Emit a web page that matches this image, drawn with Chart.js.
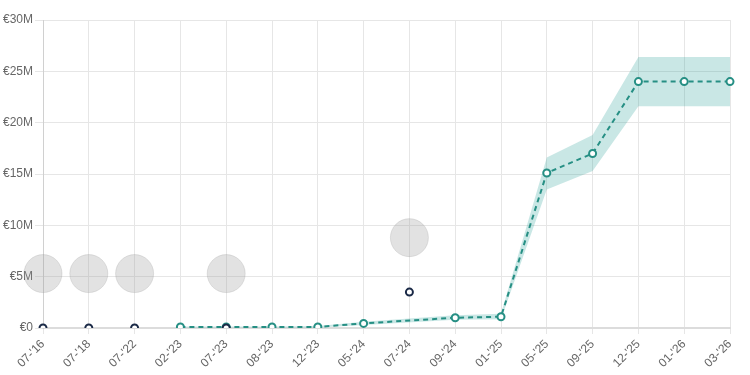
<!DOCTYPE html>
<html>
<head>
<meta charset="utf-8">
<script src="https://cdn.jsdelivr.net/npm/chart.js@4"></script>
<style>
  html, body { margin: 0; padding: 0; background: #fff; }
  #wrap { width: 750px; height: 375px; position: relative; }
</style>
</head>
<body>
<div id="wrap"><canvas id="chart"></canvas></div>
<script>
// ── DATOS ─────────────────────────────────────
const LABELS = ["07-'16", "07-'18", "07-'22", "02-'23", "07-'23", "08-'23", "12-'23", "05-'24",
                "07-'24", "09-'24", "01-'25", "05-'25", "09-'25", "12-'25", "01-'26", "03-'26"];

// valores en millones de euros
const REALES   = [0, 0, 0, null, 0, null, null, null, 3.5, null, null, null, null, null, null, null];
const BURBUJAS = [5.3, 5.3, 5.3, null, 5.3, null, null, null, 8.8, null, null, null, null, null, null, null];
const PREVISTO = [null, null, null, 0.1, 0.1, 0.1, 0.1, 0.45, null, 1.0, 1.1, 15.1, 17.0, 24.0, 24.0, 24.0];
const BANDA_SUP = [null, null, null, 0.15, 0.15, 0.15, 0.2, 0.6, null, 1.25, 1.4, 16.6, 18.8, 26.4, 26.4, 26.4];
const BANDA_INF = [null, null, null, 0.05, 0.05, 0.05, 0.05, 0.3, null, 0.8, 0.85, 13.5, 15.3, 21.6, 21.6, 21.6];

const Y_TICKS = [0, 5, 10, 15, 20, 25, 30];

const TEAL = "#268f84";
const NAVY = "#1b2a47";

// ── GRÁFICO ───────────────────────────────────
const ctx = document.getElementById("chart").getContext("2d");
new Chart(ctx, {
  type: "line",
  data: {
    labels: LABELS,
    datasets: [
      {
        label: "banda_inf",
        data: BANDA_INF,
        borderWidth: 0,
        pointRadius: 0,
        spanGaps: true,
        fill: false,
        order: 5,
      },
      {
        label: "banda_sup",
        data: BANDA_SUP,
        borderWidth: 0,
        pointRadius: 0,
        spanGaps: true,
        backgroundColor: "rgba(38,160,150,0.25)",
        fill: "-1",
        order: 4,
      },
      {
        label: "burbujas",
        data: BURBUJAS,
        showLine: false,
        pointRadius: 19,
        pointHoverRadius: 19,
        pointBackgroundColor: "rgba(150,150,150,0.28)",
        pointBorderColor: "rgba(150,150,150,0.25)",
        pointBorderWidth: 1,
        order: 3,
      },
      {
        label: "previsto",
        data: PREVISTO,
        borderColor: TEAL,
        borderWidth: 2,
        borderDash: [5, 4],
        spanGaps: true,
        tension: 0,
        pointRadius: 3.5,
        pointBackgroundColor: "#fff",
        pointBorderColor: TEAL,
        pointBorderWidth: 2,
        fill: false,
        order: 2,
      },
      {
        label: "reales",
        data: REALES,
        showLine: false,
        pointRadius: 3.5,
        pointBackgroundColor: "#fff",
        pointBorderColor: NAVY,
        pointBorderWidth: 2,
        order: 1,
      },
    ]
  },
  options: {
    responsive: true,
    maintainAspectRatio: false,
    animation: false,
    layout: { padding: { top: 14, right: 20, left: 0, bottom: 0 } },
    plugins: { legend: { display: false }, tooltip: { enabled: false } },
    scales: {
      x: {
        afterFit: axis => { axis.height = 47; },
        grid: { color: "#e6e6e6", tickLength: 6 },
        border: { color: "#dcdcdc", width: 2 },
        ticks: {
          color: "#666",
          font: { family: "Liberation Sans", size: 12 },
          maxRotation: 45,
          minRotation: 45,
          autoSkip: false,
          padding: 3,
        },
      },
      y: {
        min: 0,
        max: 30,
        afterFit: axis => { axis.width = 43; },
        afterBuildTicks: axis => { axis.ticks = Y_TICKS.map(v => ({ value: v })); },
        grid: { color: "#e6e6e6" },
        border: { color: "#d0d0d0" },
        ticks: {
          color: "#666",
          font: { family: "Liberation Sans", size: 12 },
          padding: 2,
          callback: v => v === 0 ? "€0" : "€" + v + "M",
        },
      }
    }
  }
});
</script>
</body>
</html>
